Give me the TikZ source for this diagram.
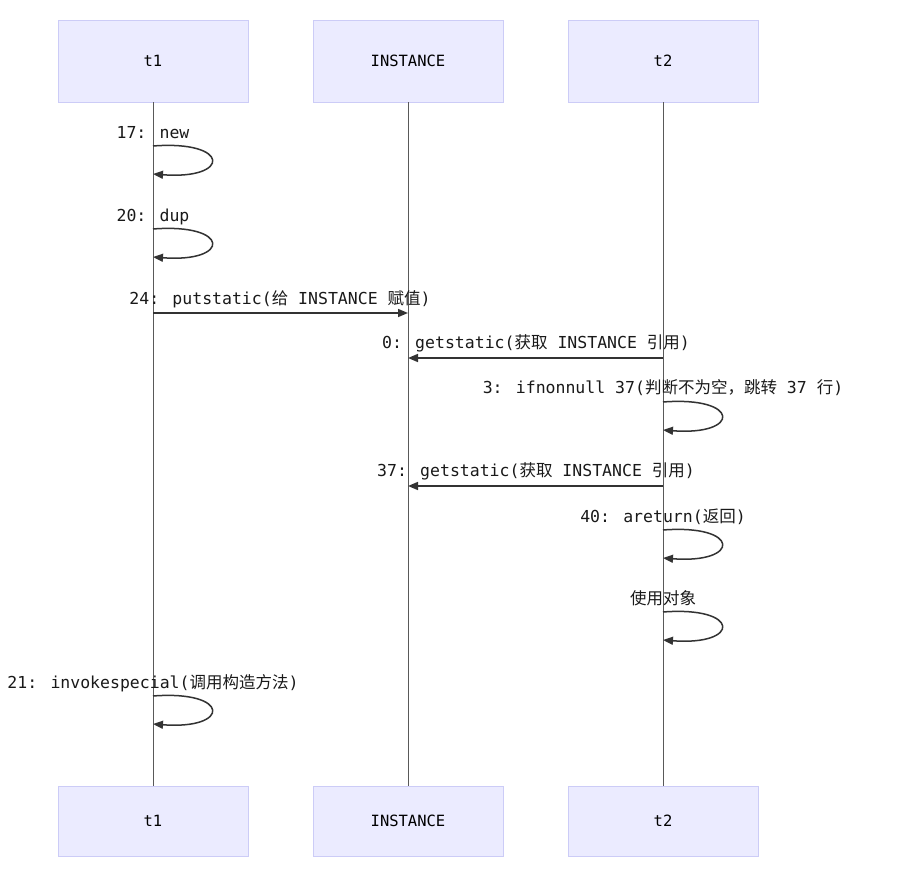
\documentclass[tikz,border=0pt]{standalone}
\usepackage{fontspec}
\setmainfont{DejaVu Sans Mono}
\newfontfamily\cjk{Noto Sans CJK SC}
\usetikzlibrary{arrows.meta}
\begin{document}
\begin{tikzpicture}[x=1pt,y=-1pt,
  actor/.style={draw=black!15!blue!20, fill=blue!8, line width=0.8pt, minimum width=190pt, minimum height=82pt, inner sep=0pt, font=\fontsize{15.5}{18}\selectfont},
  lbl/.style={font=\fontsize{16.5}{19}\selectfont, inner sep=0pt, anchor=base, text=black!90},
  life/.style={draw=black!65, line width=1pt},
  msg/.style={draw=black!80, line width=1.5pt, -{Triangle[length=10pt,width=8pt]}}]
\useasboundingbox (0,0) rectangle (914,877);
\node[actor] (a1) at (153,61) {t1};
\node[actor] (a2) at (408,61) {INSTANCE};
\node[actor] (a3) at (663,61) {t2};
\node[actor, minimum height=70pt] (b1) at (153,821) {t1};
\node[actor, minimum height=70pt] (b2) at (408,821) {INSTANCE};
\node[actor, minimum height=70pt] (b3) at (663,821) {t2};
\draw[life] (a1) -- (b1);
\draw[life] (a2) -- (b2);
\draw[life] (a3) -- (b3);
\newcommand\selfloop[2]{\draw[msg] (#1,#2) .. controls (#1+78,#2-6) and (#1+78,#2+34) .. (#1,#2+28);}
\node[lbl] (l1) at (153,139) {17: new};
\selfloop{153}{146}
\node[lbl] (l2) at (153,222) {20: dup};
\selfloop{153}{229}
\node[lbl] (l3) at (280,305) {24: putstatic({\cjk 给} INSTANCE {\cjk 赋值})};
\coordinate (p1) at (153,313); \coordinate (p2) at (408,313);
\draw[msg] (p1) -- (p2);
\node[lbl] (l4) at (536,349) {0: getstatic({\cjk 获取} INSTANCE {\cjk 引用})};
\coordinate (p3) at (663,358); \coordinate (p4) at (408,358);
\draw[msg] (p3) -- (p4);
\node[lbl] (l5) at (663,394) {3: ifnonnull 37({\cjk 判断不为空，跳转} 37 {\cjk 行})};
\selfloop{663}{402}
\node[lbl] (l6) at (536,477) {37: getstatic({\cjk 获取} INSTANCE {\cjk 引用})};
\coordinate (p5) at (663,486); \coordinate (p6) at (408,486);
\draw[msg] (p5) -- (p6);
\node[lbl] (l7) at (663,522) {40: areturn({\cjk 返回})};
\selfloop{663}{530}
\node[lbl] (l8) at (663,604) {\cjk 使用对象};
\selfloop{663}{612}
\node[lbl] (l9) at (153,688) {21: invokespecial({\cjk 调用构造方法})};
\selfloop{153}{696}
\end{tikzpicture}
\end{document}
